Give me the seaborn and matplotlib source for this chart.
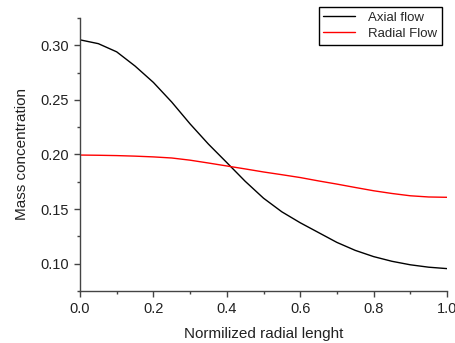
import numpy as np
import pandas as pd
import matplotlib
matplotlib.use("Agg")
import matplotlib.pyplot as plt
import seaborn as sns
from matplotlib.ticker import MultipleLocator

# values
radial = [0.00, 0.05, 0.10, 0.15, 0.20, 0.25, 0.30, 0.35, 0.40, 0.45, 0.50,
          0.55, 0.60, 0.65, 0.70, 0.75, 0.80, 0.85, 0.90, 0.95, 1.00]
axial_flow = [0.305, 0.3015, 0.294, 0.281, 0.266, 0.248, 0.228, 0.2095, 0.1926, 0.1755, 0.160,
              0.1475, 0.1375, 0.1285, 0.1195, 0.1122, 0.1065, 0.1022, 0.099, 0.0968, 0.0955]
radial_flow = [0.1995, 0.1993, 0.199, 0.1985, 0.1978, 0.1968, 0.1948, 0.1922, 0.1895, 0.1868, 0.184,
               0.1815, 0.1789, 0.1758, 0.1729, 0.1698, 0.1668, 0.1643, 0.1622, 0.1611, 0.1608]

sns.set_style("ticks")
plt.rcParams['font.family'] = ['Liberation Sans', 'DejaVu Sans']

fig = plt.figure(figsize=(4.56, 3.43), dpi=100)
ax = fig.add_axes([80 / 456, 52 / 343, 367 / 456, 273 / 343])

df = pd.DataFrame({"x": radial, "Axial flow": axial_flow, "Radial Flow": radial_flow})
sns.lineplot(data=df, x="x", y="Axial flow", color="black", lw=1.0, ax=ax, label="Axial flow")
sns.lineplot(data=df, x="x", y="Radial Flow", color="red", lw=1.0, ax=ax, label="Radial Flow")

ax.set_xlim(0, 1.0)
ax.set_ylim(0.075, 0.325)
ax.xaxis.set_major_locator(MultipleLocator(0.2))
ax.xaxis.set_minor_locator(MultipleLocator(0.1))
ax.yaxis.set_major_locator(MultipleLocator(0.05))
ax.yaxis.set_minor_locator(MultipleLocator(0.025))
ax.xaxis.set_major_formatter(lambda v, p: f"{v:.1f}")
ax.yaxis.set_major_formatter(lambda v, p: f"{v:.2f}")

for s in ["top", "right"]:
    ax.spines[s].set_visible(False)
for s in ["left", "bottom"]:
    ax.spines[s].set_color("#444444")
    ax.spines[s].set_linewidth(1.0)
ax.tick_params(which="major", length=4, width=1, color="#444444", labelsize=10.5, labelcolor="#222222", pad=4)
ax.tick_params(which="minor", length=2.5, width=1, color="#444444")

ax.set_xlabel("Normilized radial lenght", fontsize=11, color="#222222", labelpad=8)
ax.set_ylabel("Mass concentration", fontsize=11, color="#222222", labelpad=8)

leg = ax.legend(loc="upper right", bbox_to_anchor=(442 / 456, 1 - 7 / 343),
                bbox_transform=fig.transFigure, fontsize=9.5, frameon=True,
                fancybox=False, framealpha=1, edgecolor="black",
                handlelength=2.4, handletextpad=1.0, borderpad=0.35, labelspacing=0.3, borderaxespad=0)
leg.get_frame().set_linewidth(1.0)

fig.savefig("out.png", dpi=100)
